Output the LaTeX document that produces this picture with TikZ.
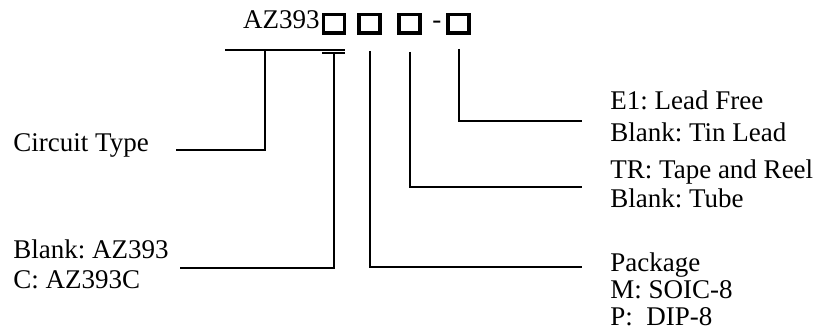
\documentclass[tikz,border=0pt]{standalone}
\usepackage{fontspec}
\setmainfont{Liberation Serif}
\frenchspacing
\tikzset{
    lbl/.style={anchor=base west, align=left, inner sep=0pt, font=\fontsize{13.5}{14}\selectfont},
    pbox/.style={draw, line width=1.7pt, minimum width=10.5pt, minimum height=9.2pt, inner sep=0pt},
    lead/.style={line width=1pt},
}
\begin{document}
\begin{tikzpicture}[x=0.5pt, y=-0.5pt]
        \useasboundingbox (0, 0) rectangle (823, 336);

        \node[lbl, anchor=base east] (part) at (320, 29) {AZ393};
        \node[pbox] (b1) at (334, 24) {};
        \node[pbox] (b2) at (369.5, 24) {};
        \node[pbox] (b3) at (409.5, 24) {};
        \node[lbl] (dash) at (432, 29) {-};
        \node[pbox] (b4) at (458.5, 24) {};

        \node[lbl] (circ) at (13, 151.5) {Circuit Type};
        \node[lbl, font=\fontsize{13.5}{15}\selectfont] (ver) at (13, 288) {Blank: AZ393\\C: AZ393C};
        \node[lbl, font=\fontsize{13.5}{16}\selectfont] (free) at (610, 142) {E1: Lead Free\\Blank: Tin Lead};
        \node[lbl] (tape) at (610, 207) {TR: Tape and Reel\\Blank: Tube};
        \node[lbl, font=\fontsize{13.5}{13.5}\selectfont] (pkg) at (610, 325) {Package\\M: SOIC-8\\P:~ DIP-8};

        \coordinate (barL) at (225, 50);
        \coordinate (barR) at (345, 50);
        \coordinate (tL) at (322, 53);
        \coordinate (tR) at (345, 53);
        \coordinate (circEnd) at (176, 150);
        \coordinate (verEnd) at (180, 268);
        \coordinate (pkgEnd) at (582, 267);
        \coordinate (tapeEnd) at (582, 187);
        \coordinate (freeEnd) at (582, 121);

        \draw[lead]
            (barL) -- (barR)
            (tL) -- (tR)
            (265, 50) |- (circEnd)
            (b1.south |- tL) |- (verEnd)
            ([yshift=-8pt]b2.south) |- (pkgEnd)
            ([yshift=-8.5pt]b3.south) |- (tapeEnd)
            ([yshift=-7pt]b4.south) |- (freeEnd)
        ;
    \end{tikzpicture}
\end{document}
